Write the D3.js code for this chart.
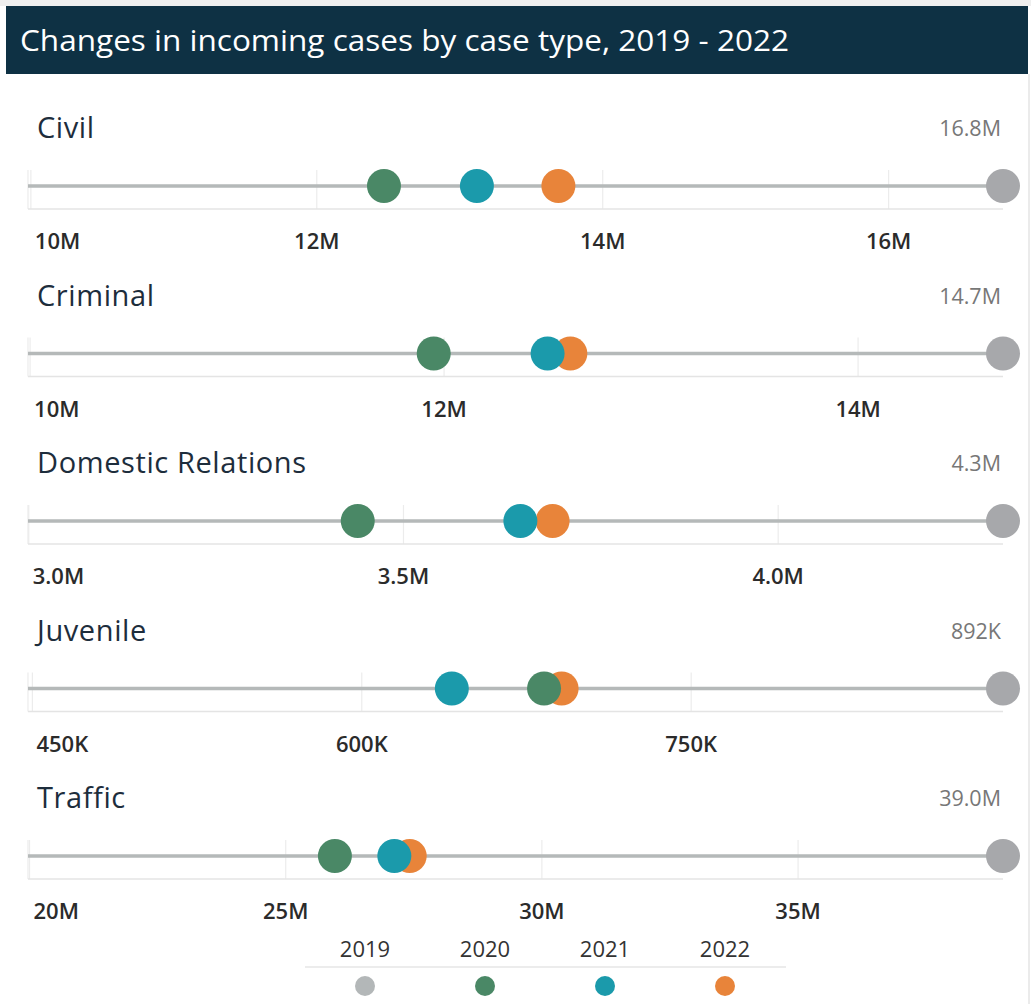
<!DOCTYPE html>
<html>
<head>
<meta charset="utf-8">
<script src="https://cdn.jsdelivr.net/npm/d3@7"></script>
<style>
  body { margin: 0; background: #fff; }
</style>
</head>
<body>
<div id="myVis"></div>
<script>
// data
var categories = ["Civil", "Criminal", "Domestic Relations", "Juvenile", "Traffic"];
var years = ["2019", "2020", "2021", "2022"];
var values2019 = [16.8e6, 14.7e6, 4.30e6, 892e3, 39.0e6];
var values2020 = [12.47e6, 11.95e6, 3.439e6, 683e3, 25.96e6];
var values2021 = [13.12e6, 12.50e6, 3.656e6, 641e3, 27.12e6];
var values2022 = [13.69e6, 12.61e6, 3.699e6, 691e3, 27.42e6];
var maxLabels = ["16.8M", "14.7M", "4.3M", "892K", "39.0M"];
var axisMins = [9.98e6, 9.99e6, 2.999e6, 448e3, 19.97e6];
var tickValues = [
  [10e6, 12e6, 14e6, 16e6],
  [10e6, 12e6, 14e6],
  [3.0e6, 3.5e6, 4.0e6],
  [450e3, 600e3, 750e3],
  [20e6, 25e6, 30e6, 35e6]
];
var tickLabels = [
  ["10M", "12M", "14M", "16M"],
  ["10M", "12M", "14M"],
  ["3.0M", "3.5M", "4.0M"],
  ["450K", "600K", "750K"],
  ["20M", "25M", "30M", "35M"]
];

var width = 1031;
var height = 1004;
var colors = ["#a7a8ab", "#4a8866", "#1b9aab", "#e8843a"];
var legendColors = ["#b3b7b8", "#4a8866", "#1b9aab", "#e8843a"];
var font = "'Open Sans', 'Noto Sans', sans-serif";

var canvas = d3
  .select("#myVis")
  .append("svg")
  .attr("width", width)
  .attr("height", height)
  .style("display", "block");

// top strip and header bar
canvas.append("rect").attr("x", 0).attr("y", 0).attr("width", width).attr("height", 6).attr("fill", "#efefef");
canvas.append("rect").attr("x", 6).attr("y", 6).attr("width", 1022).attr("height", 68).attr("fill", "#0e3144");
canvas.append("text")
  .attr("x", 20)
  .attr("y", 51)
  .attr("fill", "#ffffff")
  .attr("textLength", 769)
  .attr("lengthAdjust", "spacingAndGlyphs")
  .style("font-family", font)
  .style("font-size", "28.5px")
  .text("Changes in incoming cases by case type, 2019 - 2022");

canvas.append("line")
  .attr("x1", 1029).attr("x2", 1029)
  .attr("y1", 74).attr("y2", height)
  .attr("stroke", "#e4e4e4").attr("stroke-width", 1.5);

var left = 28;
var right = 1003;
var panelTop = 100;
var panelStep = 167.5;

categories.forEach(function (cat, i) {
  var g = canvas.append("g").attr("transform", "translate(0," + (panelTop + i * panelStep) + ")");
  var lineY = 86;

  var x = d3.scaleLinear().domain([axisMins[i], values2019[i]]).range([left, right]);

  g.append("text")
    .attr("x", 37).attr("y", 38)
    .attr("fill", "#1d2d3c")
    .style("font-family", font)
    .style("font-size", "29px")
    .style("letter-spacing", "0.6px")
    .text(cat);

  g.append("text")
    .attr("x", right - 2).attr("y", 36)
    .attr("text-anchor", "end")
    .attr("fill", "#777")
    .style("font-family", font)
    .style("font-size", "21.5px")
    .text(maxLabels[i]);

  // gridlines
  g.selectAll(".grid")
    .data([axisMins[i]].concat(tickValues[i]))
    .enter()
    .append("line")
    .attr("x1", function (d) { return x(d); })
    .attr("x2", function (d) { return x(d); })
    .attr("y1", lineY - 16)
    .attr("y2", lineY + 23)
    .attr("stroke", "#ececec")
    .attr("stroke-width", 1.2);

  g.append("line")
    .attr("x1", left).attr("x2", right)
    .attr("y1", lineY + 23).attr("y2", lineY + 23)
    .attr("stroke", "#e4e4e4").attr("stroke-width", 1.5);

  // the track
  g.append("line")
    .attr("x1", left).attr("x2", right)
    .attr("y1", lineY).attr("y2", lineY)
    .attr("stroke", "#b5b9b9").attr("stroke-width", 3.5);

  // tick labels
  var labelIx = d3.range(tickValues[i].length);
  g.selectAll(".tick")
    .data(labelIx)
    .enter()
    .append("text")
    .attr("x", function (k) { return k === 0 ? x(tickValues[i][k]) + 4 : x(tickValues[i][k]); })
    .attr("y", lineY + 63)
    .attr("text-anchor", function (k) { return k === 0 ? "start" : "middle"; })
    .attr("fill", "#2b2b2b")
    .style("font-family", font)
    .style("font-size", "22px")
    .style("font-weight", "600")
    .text(function (k) { return tickLabels[i][k]; });

  // dots, 2019 first then later years on top
  var pts = [values2019[i], values2020[i], values2021[i], values2022[i]];
  var order = [0, 1, 3, 2];
  if (cat === "Juvenile") order = [0, 2, 3, 1];
  g.selectAll(".dot")
    .data(order)
    .enter()
    .append("circle")
    .attr("cx", function (k) { return x(pts[k]); })
    .attr("cy", lineY)
    .attr("r", 17)
    .attr("fill", function (k) { return colors[k]; });
});

// legend
var lx = d3.scalePoint().domain(years).range([365, 725]);
canvas.append("line")
  .attr("x1", 305).attr("x2", 786)
  .attr("y1", 967).attr("y2", 967)
  .attr("stroke", "#e6e6e6").attr("stroke-width", 1.5);
canvas.selectAll(".legtext")
  .data(years)
  .enter()
  .append("text")
  .attr("x", function (d) { return lx(d); })
  .attr("y", 957)
  .attr("text-anchor", "middle")
  .attr("fill", "#333")
  .style("font-family", font)
  .style("font-size", "22px")
  .text(function (d) { return d; });
canvas.selectAll(".legdot")
  .data(years)
  .enter()
  .append("circle")
  .attr("cx", function (d) { return lx(d); })
  .attr("cy", 986)
  .attr("r", 10)
  .attr("fill", function (d, k) { return legendColors[k]; });
</script>
</body>
</html>
